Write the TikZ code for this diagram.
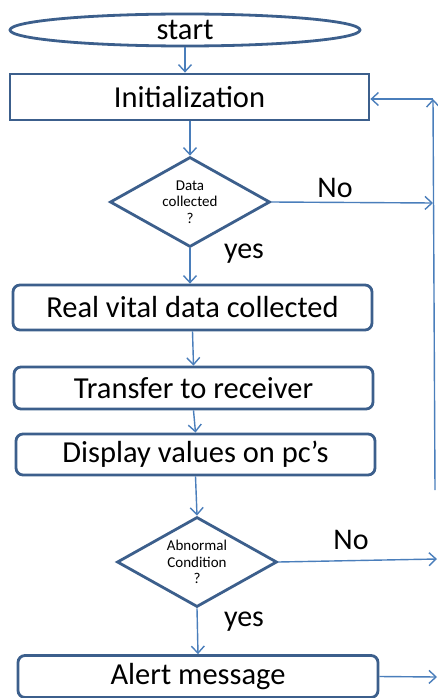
\documentclass[tikz,border=0pt]{standalone}
\usepackage{fontspec}
\setmainfont{Carlito}
\usetikzlibrary{shapes.geometric,arrows.meta}
\definecolor{boxline}{RGB}{60,95,140}
\definecolor{arrline}{RGB}{74,126,187}
\tikzset{
  shapebox/.style={draw=boxline,line width=2.8pt,fill=white,inner sep=0pt,font=\fontsize{30.5}{31}\selectfont},
  plainbox/.style={shapebox,rectangle,minimum width=359pt},
  roundbox/.style={shapebox,rectangle,rounded corners=7pt,minimum width=359pt},
  decision/.style={shapebox,diamond,aspect=1.78,minimum width=160pt,minimum height=90pt,align=center,font=\fontsize{15}{16.5}\selectfont},
  lbl/.style={inner sep=0pt,font=\fontsize{30}{31}\selectfont},
  arr/.style={draw=arrline,line width=1.4pt,-{Straight Barb[length=7pt,width=13pt,line width=1.4pt]}}
}
\begin{document}
\begin{tikzpicture}[x=1pt,y=-1pt]
\useasboundingbox (0,0) rectangle (438,698);
\node[shapebox,ellipse,minimum width=350pt,minimum height=32pt] (start) at (185,30) {start};
\node[plainbox,minimum height=46pt] (init) at (189.5,97) {Initialization};
\node[decision] (d1) at (190,202) {Data\\collected\\?};
\node[roundbox,minimum height=45pt] (real) at (192.5,307.5) {Real vital data collected};
\node[roundbox,minimum height=42pt] (transfer) at (193.5,388) {Transfer to receiver};
\node[roundbox,minimum height=41pt] (display) at (195.5,454.5) {Display values on pc’s};
\node[decision] (d2) at (197,562) {Abnormal\\Condition\\?};
\node[roundbox,minimum height=42pt,minimum width=360pt] (alert) at (198,676.5) {Alert message};
\node[lbl] (no1) at (335,188) {No};
\node[lbl] (yes1) at (244,254) {yes};
\node[lbl] (no2) at (351,540) {No};
\node[lbl] (yes2) at (244,622) {yes};
\coordinate (no1end) at (433,203);
\coordinate (no2end) at (437,559);
\coordinate (alertend) at (437,677);
\coordinate (loopbot) at (435,490);
\coordinate (loopcorner) at (433,99);
\draw[arr] (start.south) -- (init.north -| start.south);
\draw[arr] (init.south -| d1.north) -- (d1.north);
\draw[arr] (d1.south) -- (real.north -| d1.south);
\draw[arr] (real.south) -- (transfer.north);
\draw[arr] (transfer.south) -- (display.north);
\draw[arr] (display.south) -- (d2.north);
\draw[arr] (d2.south) -- (alert.north);
\draw[arr] (d1.east) -- (no1end);
\draw[arr] (d2.east) -- (no2end);
\draw[arr] (alert.east) -- (alertend);
\draw[arr] (loopbot) -- (loopcorner);
\draw[arr] (loopcorner) -- (init.east |- loopcorner);
\end{tikzpicture}
\end{document}
